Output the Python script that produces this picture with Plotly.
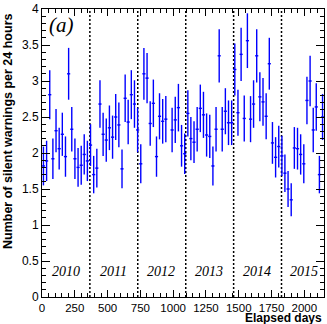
import plotly.graph_objects as go

# elapsed day of each bin centre (one bin missing around day 968)
days = [11, 35, 59, 83, 107, 131, 155, 179, 203, 227, 251, 275, 299, 322, 346,
        370, 394, 418, 442, 466, 490, 514, 538, 562, 586, 610, 634, 657, 681, 705,
        729, 753, 777, 801, 825, 849, 873, 896, 920, 944,
        992, 1016, 1040, 1064, 1088, 1112, 1135, 1159, 1183, 1207, 1231, 1255, 1279,
        1303, 1327, 1351, 1374, 1398, 1422, 1446, 1470, 1494, 1518, 1542, 1566, 1590,
        1613, 1637, 1661, 1685, 1709, 1733, 1757, 1781, 1805, 1829, 1852, 1876, 1900,
        1924, 1948, 1972, 1996, 2020, 2044, 2068, 2091, 2115, 2139]

rate = [1.82, 1.89, 2.81, 1.92, 2.31, 2.06, 2.26, 1.95, 3.10, 2.33, 1.92, 1.80, 1.83, 1.98, 1.89,
        2.11, 1.70, 1.79, 2.68, 2.26, 2.18, 2.35, 2.22, 2.50, 2.39, 1.78, 2.76, 2.43, 2.81, 2.68,
        2.32, 1.85, 3.10, 3.04, 2.41, 2.69, 1.95, 2.51, 2.44, 2.47,
        2.32, 2.46, 2.63, 2.10, 1.99, 2.55, 2.20, 2.15, 2.33, 2.62, 2.53, 2.25, 2.23,
        1.82, 2.33, 3.35, 2.33, 2.58, 2.42, 2.42, 3.16, 2.56, 3.37, 2.48, 3.56, 2.47,
        2.68, 3.35, 2.78, 2.71, 2.51, 3.24, 2.14, 1.94, 2.09, 1.96, 1.72, 1.50, 1.35,
        2.07, 2.06, 1.98, 1.85, 2.73, 3.00, 2.32, 2.64, 1.70, 2.50]

rate_err = [0.27, 0.28, 0.34, 0.28, 0.30, 0.29, 0.30, 0.28, 0.36, 0.31, 0.28, 0.27, 0.27, 0.28, 0.28,
            0.29, 0.26, 0.27, 0.33, 0.30, 0.30, 0.31, 0.30, 0.32, 0.31, 0.27, 0.33, 0.31, 0.34, 0.33,
            0.31, 0.27, 0.36, 0.35, 0.31, 0.33, 0.28, 0.32, 0.31, 0.32,
            0.31, 0.32, 0.33, 0.29, 0.28, 0.32, 0.30, 0.29, 0.31, 0.33, 0.32, 0.30, 0.30,
            0.27, 0.31, 0.37, 0.31, 0.32, 0.31, 0.31, 0.36, 0.32, 0.37, 0.32, 0.38, 0.32,
            0.33, 0.37, 0.34, 0.33, 0.32, 0.36, 0.29, 0.28, 0.29, 0.28, 0.26, 0.25, 0.23,
            0.29, 0.29, 0.28, 0.27, 0.33, 0.35, 0.31, 0.33, 0.26, 0.32]

bin_halfwidth = 12

year_starts = [365, 730, 1096, 1461, 1826]
year_labels = ["2010", "2011", "2012", "2013", "2014", "2015"]
year_label_days = [183, 545, 905, 1270, 1640, 1995]

fig = go.Figure()
fig.add_trace(go.Scatter(
    x=days, y=rate,
    mode="markers",
    marker=dict(size=1, color="#0000ff"),
    error_y=dict(type="data", array=rate_err, color="#0000ff", thickness=1.4, width=0),
    error_x=dict(type="constant", value=bin_halfwidth, color="#0000ff", thickness=1.4, width=0),
    showlegend=False,
))

for d in year_starts:
    fig.add_shape(type="line", x0=d, x1=d, y0=0, y1=4, xref="x", yref="y",
                  line=dict(color="black", width=1.5, dash="2px,2px"), layer="below")

for lab, d in zip(year_labels, year_label_days):
    fig.add_annotation(x=d, y=0.36, xref="x", yref="y", text=f"<i>{lab}</i>",
                       showarrow=False, font=dict(family="Liberation Serif", size=14, color="black"))

fig.add_annotation(x=0.07, y=0.945, xref="paper", yref="paper", xanchor="center", yanchor="middle",
                   text="<i>(a)</i>", showarrow=False,
                   font=dict(family="Liberation Serif", size=21, color="black"))

fig.add_annotation(x=0, y=1, xref="paper", yref="paper", xanchor="center", yanchor="top",
                   xshift=-34, yshift=-2, textangle=-90,
                   text="<b>Number of silent warnings per 24 hours</b>", showarrow=False,
                   font=dict(family="Liberation Sans", size=12.5, color="black"))

fig.add_annotation(x=1, y=0, xref="paper", yref="paper", xanchor="right", yanchor="middle",
                   yshift=-21, text="<b>Elapsed days</b>", showarrow=False,
                   font=dict(family="Liberation Sans", size=12, color="black"))

axis_common = dict(showline=True, linecolor="black", linewidth=1, mirror="allticks",
                   ticks="inside", tickcolor="black", showgrid=False, zeroline=False,
                   ticklabeloverflow="allow")

fig.update_xaxes(range=[0, 2150], dtick=250, tick0=0, ticklen=7,
                 tickfont=dict(family="Liberation Sans", size=11.5, color="black"),
                 minor=dict(dtick=50, ticks="inside", ticklen=4, tickcolor="black", showgrid=False),
                 **axis_common)
fig.update_yaxes(range=[0, 4], dtick=0.5, tick0=0, ticklen=8,
                 tickfont=dict(family="Liberation Sans", size=12, color="black"),
                 minor=dict(dtick=0.1, ticks="inside", ticklen=4, tickcolor="black", showgrid=False),
                 **axis_common)

fig.update_layout(
    width=327, height=324,
    margin=dict(l=42, r=2, t=5, b=27),
    plot_bgcolor="white", paper_bgcolor="white",
)

fig.write_html("out.html", config={"displayModeBar": False},
               post_script="document.body.style.margin='0px';")
